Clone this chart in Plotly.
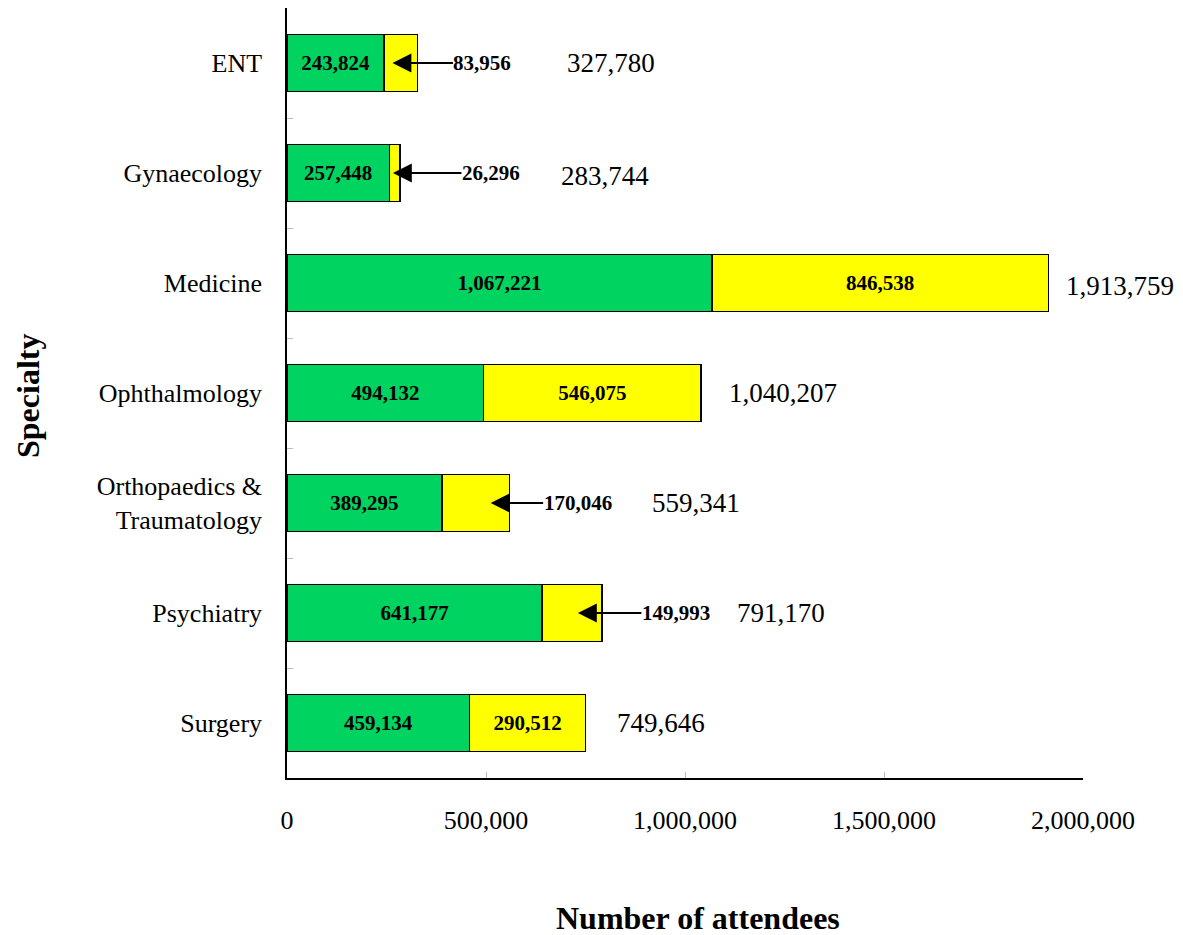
import plotly.graph_objects as go

specialties = ["ENT", "Gynaecology", "Medicine", "Ophthalmology",
               "Orthopaedics &<br>Traumatology", "Psychiatry", "Surgery"]
green_vals = [243824, 257448, 1067221, 494132, 389295, 641177, 459134]
yellow_vals = [83956, 26296, 846538, 546075, 170046, 149993, 290512]
totals = [327780, 283744, 1913759, 1040207, 559341, 791170, 749646]
x_tick_vals = [0, 500000, 1000000, 1500000, 2000000]
x_tick_text = ["0", "500,000", "1,000,000", "1,500,000", "2,000,000"]

# which yellow labels are shown outside with an arrow
arrowed = [True, True, False, False, True, True, False]

# layout-only offsets (pixels)
total_xshift = [148, 159, 15, 26, 140, 133, 30]
total_yshift = [0, -3, -3, 0, 0, 0, 0]
arrow_head_shift = [-25, -7, -19, -24]
arrow_label_dx = [90, 98, 87, 98]

GREEN = "#00D35F"
YELLOW = "#FFFF00"
FONT = "Liberation Serif, Times New Roman, serif"

fmt = lambda v: f"{v:,}"

fig = go.Figure()
fig.add_trace(go.Bar(
    y=specialties, x=green_vals, orientation="h", name="green",
    marker=dict(color=GREEN, line=dict(color="black", width=1.5)),
    text=[fmt(v) for v in green_vals], textposition="inside",
    insidetextanchor="middle", textangle=0,
    textfont=dict(family=FONT, size=21, color="black", weight="bold"),
    width=0.52, hoverinfo="skip"))
fig.add_trace(go.Bar(
    y=specialties, x=yellow_vals, orientation="h", name="yellow",
    marker=dict(color=YELLOW, line=dict(color="black", width=1.5)),
    text=["" if a else fmt(v) for v, a in zip(yellow_vals, arrowed)],
    textposition="inside", insidetextanchor="middle", textangle=0,
    textfont=dict(family=FONT, size=21, color="black", weight="bold"),
    width=0.52, hoverinfo="skip"))

annotations = []
for cat, tot, xs, ys in zip(specialties, totals, total_xshift, total_yshift):
    annotations.append(dict(
        x=tot, y=cat, xref="x", yref="y", text=fmt(tot), showarrow=False,
        xanchor="left", yanchor="middle", xshift=xs, yshift=ys,
        font=dict(family=FONT, size=27, color="black")))

k = 0
for cat, tot, yv, a in zip(specialties, totals, yellow_vals, arrowed):
    if not a:
        continue
    annotations.append(dict(
        x=tot, y=cat, xref="x", yref="y", text="<b>" + fmt(yv) + "</b>",
        showarrow=True, arrowhead=2, arrowsize=2.1, arrowwidth=1.8,
        arrowcolor="black", axref="pixel", ayref="pixel",
        ax=arrow_label_dx[k], ay=0, xshift=arrow_head_shift[k],
        borderpad=0,
        font=dict(family=FONT, size=21, color="black")))
    k += 1

annotations.append(dict(
    x=0.5, y=-0.1818, xref="paper", yref="paper", showarrow=False,
    xanchor="center", yanchor="middle", xshift=13,
    text="<b>Number of attendees</b>",
    font=dict(family=FONT, size=32, color="black")))
annotations.append(dict(
    x=0, y=0.5, xref="paper", yref="paper", showarrow=False,
    xanchor="center", yanchor="middle", xshift=-259, yshift=-3,
    text="<b>Specialty</b>", textangle=-90,
    font=dict(family=FONT, size=32, color="black")))

fig.update_layout(
    barmode="stack", showlegend=False,
    width=1183, height=935,
    margin=dict(l=287, r=100, t=8, b=157),
    plot_bgcolor="white", paper_bgcolor="white",
    annotations=annotations,
    xaxis=dict(range=[0, 2000000], tickvals=x_tick_vals, ticktext=x_tick_text,
               showgrid=False, zeroline=False, showline=True,
               linecolor="black", linewidth=1.5,
               ticks="inside", ticklen=6, tickcolor="#bbbbbb",
               ticklabelstandoff=18,
               tickfont=dict(family=FONT, size=26, color="black")),
    yaxis=dict(categoryorder="array", categoryarray=specialties,
               autorange="reversed", showgrid=False, zeroline=False,
               showline=True, linecolor="black", linewidth=1.5,
               ticks="inside", ticklen=6, tickcolor="#bbbbbb",
               tickson="boundaries", ticklabelstandoff=18,
               tickfont=dict(family=FONT, size=26, color="black")),
)

fig.write_html("out.html")
